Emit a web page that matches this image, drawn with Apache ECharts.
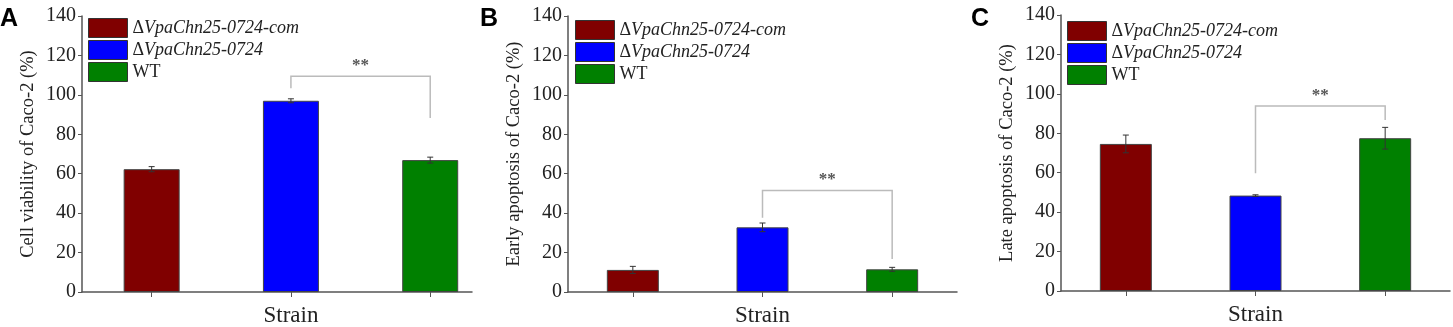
<!DOCTYPE html>
<html>
<head>
<meta charset="utf-8">
<script src="https://cdn.jsdelivr.net/npm/echarts@6/dist/echarts.min.js"></script>
<style>
html, body { margin: 0; padding: 0; background: #fff; }
#graph { width: 1453px; height: 327px; }
</style>
</head>
<body>
<div id="graph"></div>
<script>
"use strict"

const strains = ["ΔVpaChn25-0724-com", "ΔVpaChn25-0724", "WT"];
const colors = ["#800000", "#0000ff", "#008000"];
const xPos = [1, 2, 3];

// panel A: cell viability
const viability = [62.3, 97.0, 66.9];
const viabilityErr = [1.3, 1.0, 1.5];
// panel B: early apoptosis
const early = [11.2, 32.8, 11.5];
const earlyErr = [1.8, 2.2, 1.0];
// panel C: late apoptosis
const late = [74.6, 48.4, 77.5];
const lateErr = [4.5, 0.4, 5.5];

// significance brackets: [from, to, top, left leg end, right leg end]
const bracketA = [2, 3, 109.5, 103.4, 88.2];
const bracketB = [2, 3, 51.5, 37.7, 16.7];
const bracketC = [2, 3, 93.9, 59.7, 86.8];

const serif = "'Liberation Serif', 'Times New Roman', serif";
const axisCol = "#555";

const panels = [
    { letter: "A", name: "Cell viability of Caco-2 (%)", vals: viability, errs: viabilityErr, bracket: bracketA,
      left: 82, width: 390, top: 16, height: 276, xmax: 3.3, barW: 56, legLeft: 88, legTop: 18, letterX: 0, namePad: 28 },
    { letter: "B", name: "Early apoptosis of Caco-2 (%)", vals: early, errs: earlyErr, bracket: bracketB,
      left: 568, width: 389, top: 16, height: 276, xmax: 3.5, barW: 52, legLeft: 575, legTop: 20, letterX: 480, namePad: 0 },
    { letter: "C", name: "Late apoptosis of Caco-2 (%)", vals: late, errs: lateErr, bracket: bracketC,
      left: 1061, width: 389, top: 15, height: 276, xmax: 3.5, barW: 52, legLeft: 1067, legTop: 21, letterX: 971, namePad: 0 }
];

function errRender(params, api)
{
    const x = api.value(0), y = api.value(1), e = api.value(2);
    const hi = api.coord([x, y + e]), lo = api.coord([x, y - e]);
    const style = { stroke: "#333", lineWidth: 1 };
    return {
        type: "group",
        children: [
            { type: "line", shape: { x1: hi[0], y1: hi[1], x2: lo[0], y2: lo[1] }, style },
            { type: "line", shape: { x1: hi[0] - 3, y1: hi[1], x2: hi[0] + 3, y2: hi[1] }, style },
            { type: "line", shape: { x1: lo[0] - 3, y1: lo[1], x2: lo[0] + 3, y2: lo[1] }, style }
        ]
    };
}

function bracketRender(params, api)
{
    const [x1, x2, top, l, r] = [0, 1, 2, 3, 4].map(i => api.value(i));
    const a = api.coord([x1, l]), b = api.coord([x1, top]), c = api.coord([x2, top]), d = api.coord([x2, r]);
    return {
        type: "group",
        children: [
            { type: "polyline", shape: { points: [a, b, c, d] }, style: { stroke: "#bbb", lineWidth: 1.5, fill: null } },
            { type: "text", x: (b[0] + c[0]) / 2, y: b[1] - 2,
              style: { text: "**", fill: "#555", font: `bold 17px ${serif}`, align: "center", verticalAlign: "bottom" } }
        ]
    };
}

const grid = [], xAxis = [], yAxis = [], series = [], legend = [], title = [];

panels.forEach((p, k) =>
{
    grid.push({ left: p.left, top: p.top, width: p.width, height: p.height, outerBoundsMode: "none" });
    xAxis.push({
        type: "value", gridIndex: k, min: 0.5, max: p.xmax,
        name: "Strain", nameLocation: "middle", nameGap: 12,
        nameTextStyle: { fontFamily: serif, fontSize: 23, color: "#222", padding: [0, 0, 0, p.namePad] },
        axisLine: { lineStyle: { color: axisCol, width: 1.5 } },
        axisTick: { show: true, length: 5, lineStyle: { color: axisCol }, customValues: xPos },
        axisLabel: { show: false },
        splitLine: { show: false }
    });
    yAxis.push({
        type: "value", gridIndex: k, min: 0, max: 140, interval: 20,
        name: p.name, nameLocation: "middle", nameGap: 44,
        nameTextStyle: { fontFamily: serif, fontSize: 18.5, color: "#222" },
        axisLine: { show: true, lineStyle: { color: axisCol, width: 1.5 } },
        axisTick: { show: true, length: 4, lineStyle: { color: axisCol } },
        axisLabel: { fontFamily: serif, fontSize: 20, color: "#222", margin: 6 },
        splitLine: { show: false }
    });
    strains.forEach((s, i) =>
    {
        series.push({
            name: s, type: "bar", xAxisIndex: k, yAxisIndex: k,
            barWidth: p.barW, barGap: "-100%",
            itemStyle: { color: colors[i], borderColor: "#444", borderWidth: 1 },
            data: [[xPos[i], p.vals[i]]]
        });
    });
    series.push({
        type: "custom", xAxisIndex: k, yAxisIndex: k, z: 5,
        renderItem: errRender,
        data: xPos.map((x, i) => [x, p.vals[i], p.errs[i]])
    });
    series.push({
        type: "custom", xAxisIndex: k, yAxisIndex: k, z: 5,
        renderItem: bracketRender,
        data: [p.bracket]
    });
    legend.push({
        orient: "vertical", left: p.legLeft, top: p.legTop, padding: 0,
        itemWidth: 39, itemHeight: 19, itemGap: 2, icon: "rect", selectedMode: false,
        itemStyle: { borderColor: "#333", borderWidth: 1 },
        data: strains,
        formatter: n => n.startsWith("Δ") ? `{d|Δ}{i|${n.slice(1)}}` : `{d|${n}}`,
        textStyle: {
            lineHeight: 19,
            rich: {
                d: { fontFamily: serif, fontSize: 18, color: "#222" },
                i: { fontFamily: serif, fontSize: 18, fontStyle: "italic", color: "#222" }
            }
        }
    });
    title.push({
        text: p.letter, left: p.letterX, top: 7, padding: 0,
        textStyle: { fontFamily: "'Liberation Sans', Arial, sans-serif", fontWeight: "bold", fontSize: 25, color: "#000" }
    });
});

const myChart = echarts.init(document.getElementById("graph"), null, { renderer: "canvas" });
myChart.setOption({ animation: false, textStyle: { fontFamily: serif }, title, legend, grid, xAxis, yAxis, series });
</script>
</body>
</html>
